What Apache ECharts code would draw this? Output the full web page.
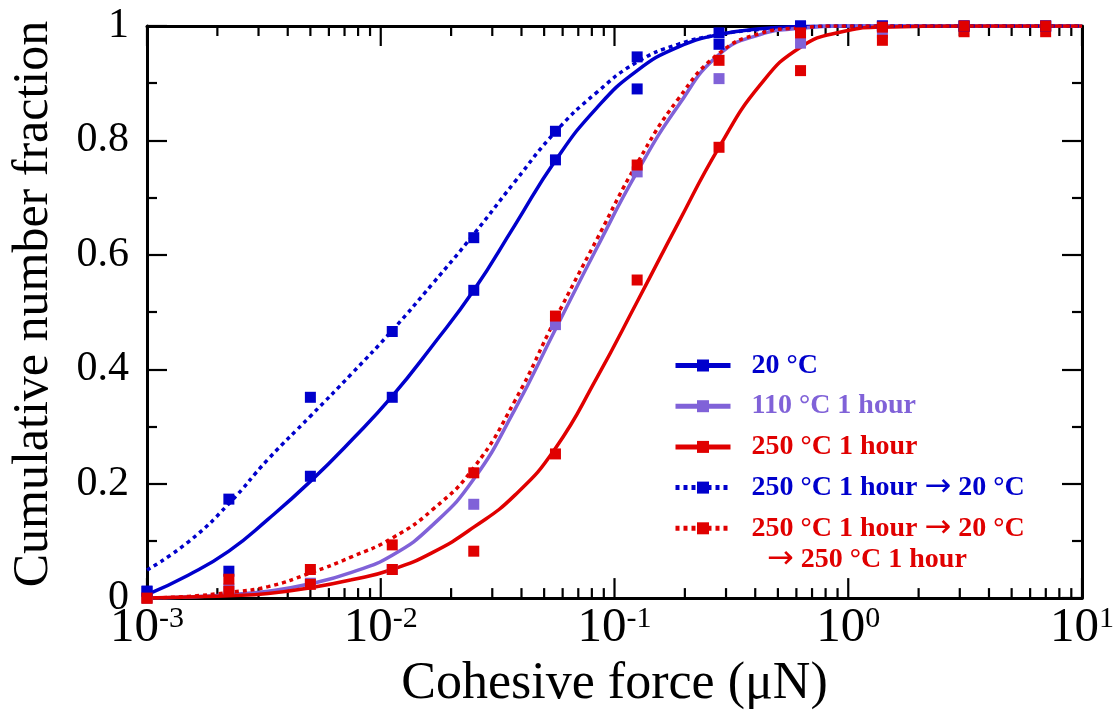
<!DOCTYPE html>
<html>
<head>
<meta charset="utf-8">
<script src="https://cdn.jsdelivr.net/npm/echarts@6/dist/echarts.min.js"></script>
<style>
html,body{margin:0;padding:0;background:#fff;}
#c{width:1117px;height:715px;}
</style>
</head>
<body>
<div id="c"></div>
<script>
// ---------- data ----------
const X_PTS = [0.001, 0.00224, 0.005, 0.0112, 0.025, 0.0559, 0.125, 0.28, 0.625, 1.4, 3.13, 6.99];
const PTS_20C        = [0.012, 0.047, 0.213, 0.351, 0.538, 0.766, 0.890, 0.968, 1.0, 1.0, 1.0, 1.0];
const PTS_110C       = [0.0, 0.016, 0.026, 0.050, 0.164, 0.478, 0.745, 0.908, 0.970, 0.988, 1.0, 1.0];
const PTS_250C       = [0.0, 0.012, 0.024, 0.050, 0.082, 0.252, 0.556, 0.788, 0.922, 0.975, 0.990, 0.990];
const PTS_250_20     = [0.012, 0.173, 0.351, 0.466, 0.630, 0.816, 0.946, 0.988, 1.0, 1.0, 1.0, 1.0];
const PTS_250_20_250 = [0.0, 0.033, 0.050, 0.093, 0.219, 0.493, 0.757, 0.940, 0.988, 0.998, 1.0, 1.0];

const X_FIT = [0.001, 0.0015, 0.00224, 0.0033, 0.005, 0.0075, 0.0112, 0.0167, 0.025, 0.0375, 0.0559, 0.084, 0.125, 0.187, 0.28, 0.42, 0.625, 0.94, 1.4, 3.13, 10];
const FIT_20C        = [0.006, 0.040, 0.082, 0.138, 0.204, 0.276, 0.353, 0.442, 0.538, 0.652, 0.765, 0.857, 0.922, 0.963, 0.985, 0.995, 0.999, 1.0, 1.0, 1.0, 1.0];
const FIT_110C       = [0.0, 0.002, 0.006, 0.012, 0.025, 0.045, 0.075, 0.128, 0.208, 0.330, 0.470, 0.612, 0.745, 0.860, 0.950, 0.985, 0.996, 1.0, 1.0, 1.0, 1.0];
const FIT_250C       = [0.0, 0.002, 0.004, 0.008, 0.018, 0.032, 0.050, 0.080, 0.124, 0.180, 0.262, 0.385, 0.518, 0.655, 0.788, 0.897, 0.963, 0.990, 0.998, 1.0, 1.0];
const FIT_250_20     = [0.049, 0.098, 0.165, 0.243, 0.318, 0.392, 0.468, 0.550, 0.636, 0.728, 0.815, 0.884, 0.937, 0.968, 0.985, 0.994, 0.998, 1.0, 1.0, 1.0, 1.0];
const FIT_250_20_250 = [0.0, 0.003, 0.010, 0.020, 0.044, 0.072, 0.105, 0.155, 0.228, 0.345, 0.488, 0.627, 0.760, 0.872, 0.952, 0.987, 0.997, 1.0, 1.0, 1.0, 1.0];

const SERIES_NAMES = ['20 °C', '110 °C 1 hour', '250 °C 1 hour', '250 °C 1 hour → 20 °C', '250 °C 1 hour → 20 °C → 250 °C 1 hour'];
const LEGEND_LINE1 = ['20 °C', '110 °C 1 hour', '250 °C 1 hour', '250 °C 1 hour {a|→} 20 °C', '250 °C 1 hour {a|→} 20 °C'];
const LEGEND_LINE2 = '{a|→} 250 °C 1 hour';
const Y_TICKS = [0, 0.2, 0.4, 0.6, 0.8, 1];
const X_MAJOR = [0.001, 0.01, 0.1, 1, 10];
const X_TITLE = 'Cohesive force (μN)';
const Y_TITLE = 'Cumulative number fraction';

// ---------- styling ----------
const FONT = '"Liberation Serif","Times New Roman",serif';
const BLUE = '#0000cc', PURPLE = '#8062d8', RED = '#e00000';
const COLORS = [BLUE, PURPLE, RED, BLUE, RED];
const DASHED = [false, false, false, true, true];
const PTS = [PTS_20C, PTS_110C, PTS_250C, PTS_250_20, PTS_250_20_250];
const FITS = [FIT_20C, FIT_110C, FIT_250C, FIT_250_20, FIT_250_20_250];

// minor tick positions of the log axis (2..9 x each decade)
const X_MINOR = [];
for (let e = -3; e < 1; e++) for (let m = 2; m <= 9; m++) X_MINOR.push(parseFloat((m * Math.pow(10, e)).toPrecision(3)));

function pairs(xs, ys) { return xs.map((x, i) => [x, ys[i]]); }

const chart = echarts.init(document.getElementById('c'), null, {renderer: 'canvas'});

const series = [];
FITS.forEach((f, i) => {
  series.push({
    name: SERIES_NAMES[i], type: 'line', data: pairs(X_FIT, f),
    smooth: 0.5, symbol: 'rect', symbolSize: 12, showSymbol: false,
    lineStyle: {color: COLORS[i], width: 3.5, type: DASHED[i] ? [4, 4] : 'solid'},
    itemStyle: {color: COLORS[i]}, z: 3, silent: true
  });
});
PTS.forEach((p, i) => {
  series.push({
    name: 'pts' + i, type: 'scatter', data: pairs(X_PTS, p),
    symbol: 'rect', symbolSize: 11, itemStyle: {color: COLORS[i], opacity: 1}, z: 4, silent: true
  });
});

function axisLine() { return {show: true, onZero: false, lineStyle: {color: '#000', width: 3}}; }
function yTick() { return {show: true, inside: true, length: 20, lineStyle: {color: '#000', width: 2.2}}; }
function yMinor() { return {show: true, splitNumber: 2, length: 10, lineStyle: {color: '#000', width: 2.2}}; }

function legendLine2() {
  return {
    type: 'text', left: 767, top: 542, silent: true,
    style: {
      text: LEGEND_LINE2, fontFamily: FONT, fontWeight: 'bold', fontSize: 28, lineHeight: 35, fill: RED,
      rich: {a: {fontFamily: '"DejaVu Sans"', fontWeight: 'normal', fontSize: 32, lineHeight: 35, fill: RED}}
    }
  };
}

const option = {
  backgroundColor: '#fff',
  animation: false,
  grid: {left: 147, top: 26, right: 35, bottom: 110, containLabel: false},
  xAxis: [
    {
      type: 'log', logBase: 10, min: 0.001, max: 10, position: 'bottom',
      axisLine: axisLine(), axisTick: {show: false}, splitLine: {show: false},
      axisLabel: {
        margin: 6, color: '#000',
        formatter: v => '{b|10}{s|' + Math.round(Math.log10(v)) + '}',
        rich: {
          b: {fontFamily: FONT, fontSize: 49, color: '#000', verticalAlign: 'bottom'},
          s: {fontFamily: FONT, fontSize: 30, color: '#000', verticalAlign: 'top', padding: [0, 0, 16, 0]}
        }
      },
      name: X_TITLE, nameLocation: 'middle', nameGap: 39,
      nameTextStyle: {fontFamily: FONT, fontSize: 52, color: '#000'}
    },
    {
      type: 'log', logBase: 10, min: 0.001, max: 10, position: 'top',
      axisLine: axisLine(), axisTick: {show: false}, axisLabel: {show: false}, splitLine: {show: false}
    }
  ],
  yAxis: [
    {
      type: 'value', min: 0, max: 1, interval: 0.2, position: 'left',
      axisLine: axisLine(), axisTick: yTick(), minorTick: yMinor(),
      splitLine: {show: false}, minorSplitLine: {show: false},
      axisLabel: {margin: 18, color: '#000', fontFamily: FONT, fontSize: 42,
        formatter: v => (Y_TICKS.indexOf(Math.round(v * 10) / 10) >= 0 ? String(Math.round(v * 10) / 10) : '')},
      name: Y_TITLE, nameLocation: 'middle', nameGap: 88, nameRotate: 90,
      nameTextStyle: {fontFamily: FONT, fontSize: 50, color: '#000', padding: [0, 0, 0, 16]}
    },
    {
      type: 'value', min: 0, max: 1, interval: 0.2, position: 'right',
      axisLine: axisLine(), axisTick: yTick(), minorTick: yMinor(),
      splitLine: {show: false}, axisLabel: {show: false}
    }
  ],
  legend: {
    orient: 'vertical', left: 668, top: 343, itemWidth: 55, itemHeight: 15, itemGap: 5.7,
    selectedMode: false,
    lineStyle: {width: 5},
    data: SERIES_NAMES.map((n, i) => ({name: n, textStyle: {color: COLORS[i]}})),
    formatter: name => LEGEND_LINE1[SERIES_NAMES.indexOf(name)],
    textStyle: {
      fontFamily: FONT, fontWeight: 'bold', fontSize: 28, lineHeight: 35, padding: [0, 0, 0, 16],
      rich: {a: {fontFamily: '"DejaVu Sans"', fontWeight: 'normal', fontSize: 32, lineHeight: 35}}
    }
  },
  series: series
};
chart.setOption(option);

// x-axis ticks (major + minor) on bottom and top, positioned through the axis scales
const els = [legendLine2()];
function addTick(v, len) {
  const pb = chart.convertToPixel({gridIndex: 0}, [v, 0]);
  const pt = chart.convertToPixel({gridIndex: 0}, [v, 1]);
  els.push({type: 'line', shape: {x1: pb[0], y1: pb[1], x2: pb[0], y2: pb[1] - len}, style: {stroke: '#000', lineWidth: 2.2}});
  els.push({type: 'line', shape: {x1: pt[0], y1: pt[1], x2: pt[0], y2: pt[1] + len}, style: {stroke: '#000', lineWidth: 2.2}});
}
X_MAJOR.forEach(v => addTick(v, 20));
X_MINOR.forEach(v => addTick(v, 10));
chart.setOption({graphic: els});
</script>
</body>
</html>
